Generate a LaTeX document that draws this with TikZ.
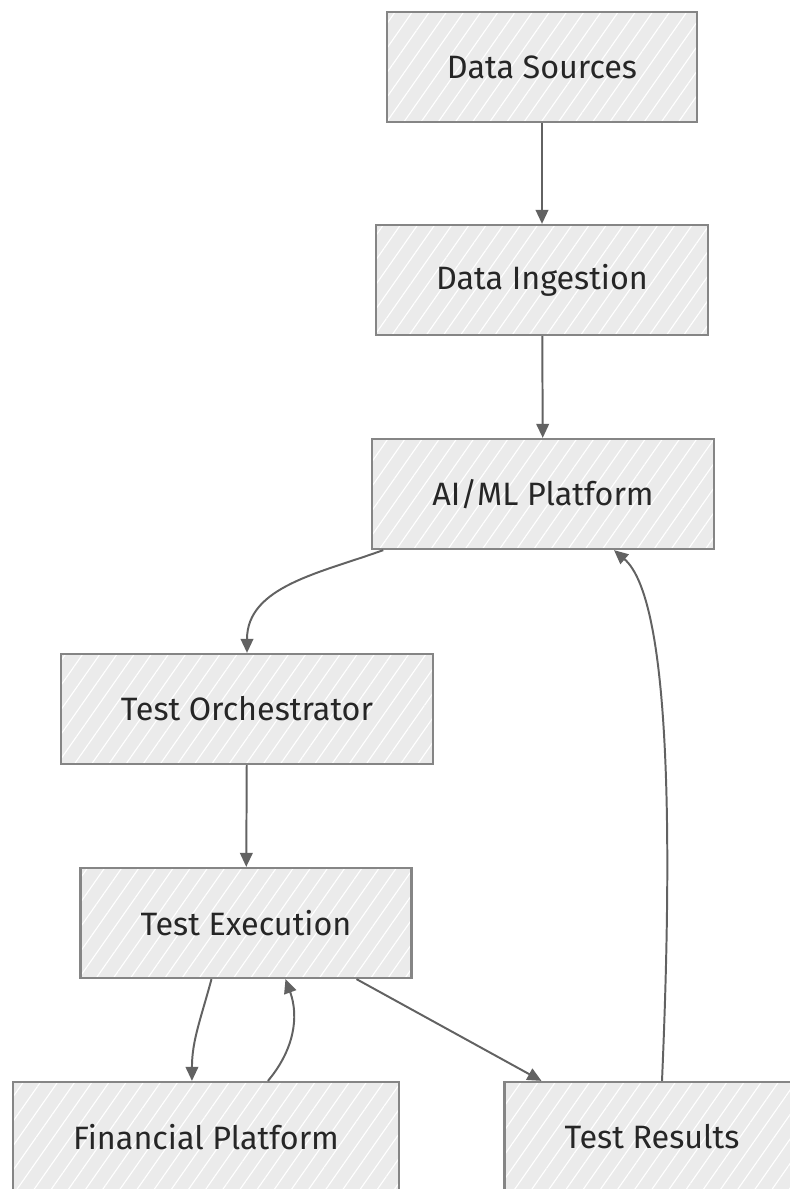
\documentclass[tikz,border=0pt]{standalone}
\usepackage{fontspec}
\setmainfont{Fira Sans}
\usepackage{tikz}
\usetikzlibrary{arrows.meta}
\usetikzlibrary{patterns.meta}
\definecolor{boxfill}{HTML}{EBEBEB}
\definecolor{boxline}{HTML}{858585}
\definecolor{arrline}{HTML}{626262}
\definecolor{txt}{HTML}{262626}
\tikzstyle{blk}=[draw=boxline, line width=1.6pt, preaction={fill=boxfill}, pattern={Lines[angle=55, distance=10pt, line width=0.8pt]}, pattern color=white, rectangle, minimum height=2.75cm, inner xsep=1.5cm, text=txt, font=\fontsize{23}{27}\selectfont]
\tikzstyle{flow}=[color=arrline, line width=1.4pt, -{Triangle[length=10pt, width=9pt]}]

\begin{document}
\begin{tikzpicture}[auto]
    \useasboundingbox (0,0) rectangle (19.75,-29.725);
    %\draw [help lines] (0,0) grid (20,-30);

    \node [blk] (DS) at (13.55,-1.675)  {Data Sources};
    \node [blk] (DI) at (13.55,-7.0)    {Data Ingestion};
    \node [blk] (AI) at (13.575,-12.35) {AI/ML Platform};
    \node [blk] (TO) at (6.175,-17.725) {Test Orchestrator};
    \node [blk] (TE) at (6.15,-23.075)  {Test Execution};
    \node [blk] (FP) at (5.15,-28.425)  {Financial Platform};
    \node [blk] (TR) at (16.3,-28.425)  {Test Results};

    \path [flow] (DS) edge (DI)
                 (DI) edge (AI)
                 ([xshift=0.3cm]AI.south west) edge [out=-160, in=90] (TO.north)
                 (TO) edge (TE)
                 ([xshift=3.3cm]TE.south west) edge [out=-105, in=90] ([xshift=4.5cm]FP.north west)
                 ([xshift=6.4cm]FP.north west) edge [out=50, in=-70] ([xshift=5.15cm]TE.south west)
                 ([xshift=-1.4cm]TE.south east) edge ([xshift=0.95cm]TR.north west);
    \draw [flow] ([xshift=0.25cm]TR.north) .. controls (16.8,-21.25) and (16.8,-15.0) .. ([xshift=1.775cm]AI.south);

\end{tikzpicture}
\end{document}
